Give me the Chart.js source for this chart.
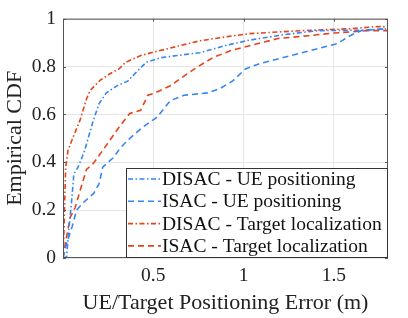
<!DOCTYPE html>
<html lang="en">
<head>
    <meta charset="UTF-8">
    <title>Empirical CDF</title>
    <script src="https://cdn.jsdelivr.net/npm/chart.js"></script>
    <style>
        body { margin: 0; background: #fff; }
        #wrap { width: 408px; height: 318px; }
    </style>
</head>
<body>
    <div id="wrap"><canvas id="cdfChart"></canvas></div>

    <script>
        // Values (error in m, CDF)
        const disacUeX = [0, 0.02, 0.03, 0.048, 0.06, 0.083, 0.1, 0.12, 0.168, 0.2, 0.24, 0.3, 0.36, 0.41, 0.46, 0.54, 0.63, 0.76, 0.91, 1.03, 1.22, 1.41, 1.65, 1.8];
        const disacUeY = [0, 0.005, 0.1, 0.24, 0.35, 0.38, 0.41, 0.45, 0.575, 0.645, 0.69, 0.72, 0.74, 0.78, 0.817, 0.837, 0.846, 0.858, 0.89, 0.91, 0.933, 0.95, 0.952, 0.958];

        const isacUeX = [0, 0.02, 0.05, 0.075, 0.11, 0.17, 0.2, 0.22, 0.28, 0.317, 0.37, 0.44, 0.52, 0.595, 0.67, 0.8, 0.87, 0.94, 1.01, 1.08, 1.22, 1.41, 1.52, 1.59, 1.65, 1.8];
        const isacUeY = [0, 0.06, 0.13, 0.2, 0.23, 0.27, 0.31, 0.38, 0.42, 0.46, 0.5, 0.546, 0.588, 0.658, 0.68, 0.69, 0.708, 0.74, 0.79, 0.81, 0.8375, 0.875, 0.896, 0.929, 0.95, 0.958];

        const disacTgX = [0, 0.005, 0.01, 0.015, 0.028, 0.048, 0.094, 0.128, 0.15, 0.205, 0.26, 0.31, 0.345, 0.43, 0.5, 0.65, 0.76, 0.91, 1.03, 1.32, 1.59, 1.74, 1.8];
        const disacTgY = [0, 0.1, 0.25, 0.38, 0.45, 0.49, 0.575, 0.66, 0.7, 0.742, 0.77, 0.79, 0.817, 0.846, 0.86, 0.8875, 0.908, 0.925, 0.9375, 0.95, 0.958, 0.967, 0.967];

        const isacTgX = [0, 0.02, 0.04, 0.067, 0.094, 0.13, 0.168, 0.22, 0.31, 0.37, 0.43, 0.47, 0.51, 0.595, 0.65, 0.74, 0.83, 0.93, 1.06, 1.19, 1.36, 1.5, 1.69, 1.8];
        const isacTgY = [0, 0.09, 0.17, 0.21, 0.28, 0.37, 0.395, 0.45, 0.546, 0.604, 0.617, 0.68, 0.69, 0.72, 0.75, 0.796, 0.8375, 0.867, 0.892, 0.917, 0.929, 0.94, 0.95, 0.95];

        const seriesLabels = ['DISAC - UE positioning', 'ISAC - UE positioning', 'DISAC - Target localization', 'ISAC - Target localization'];
        const yTicks = [0, 0.2, 0.4, 0.6, 0.8, 1];
        const xTicks = [0.5, 1, 1.5];

        const BLUE = '#3585f2';
        const RED = '#e5431b';
        const DASHDOT = [5, 2.5, 1.5, 2.5];
        const DASHED = [6, 4];
        const FONT = '"Liberation Serif", "DejaVu Serif", serif';

        const zip = (xs, ys) => xs.map((x, i) => ({ x: x, y: ys[i] }));

        function series(label, xs, ys, color, dash) {
            return {
                label: label,
                data: zip(xs, ys),
                showLine: true,
                borderColor: color,
                borderWidth: 1.6,
                borderDash: dash,
                pointRadius: 0,
                tension: 0,
                fill: false
            };
        }

        // legend box drawn in the lower right corner, MATLAB style
        const boxLegend = {
            id: 'boxLegend',
            afterDraw(chart) {
                const c = chart.ctx;
                const area = chart.chartArea;
                const left = 126, top = 168, right = area.right, bottom = area.bottom;
                c.save();
                c.fillStyle = '#fff';
                c.fillRect(left, top, right - left, bottom - top);
                c.strokeStyle = '#333';
                c.lineWidth = 1;
                c.setLineDash([]);
                c.strokeRect(left + 0.5, top + 0.5, right - left - 1, bottom - top - 1);
                const rowH = 22.3;
                chart.data.datasets.forEach((ds, i) => {
                    const y = top + 11 + i * rowH;
                    c.beginPath();
                    c.setLineDash(ds.borderDash);
                    c.strokeStyle = ds.borderColor;
                    c.lineWidth = 1.6;
                    c.moveTo(128, y);
                    c.lineTo(161, y);
                    c.stroke();
                    c.setLineDash([]);
                    c.fillStyle = '#111';
                    c.font = '19.5px ' + FONT;
                    c.textBaseline = 'middle';
                    c.fillText(ds.label, 162, y + 1);
                });
                c.restore();
            }
        };

        // box around the plot with inward ticks
        const axesBox = {
            id: 'axesBox',
            afterDatasetsDraw(chart) {
                const c = chart.ctx;
                const a = chart.chartArea;
                const xs = chart.scales.x, ys = chart.scales.y;
                c.save();
                c.strokeStyle = '#555';
                c.lineWidth = 1;
                c.setLineDash([]);
                c.strokeRect(a.left + 0.5, a.top + 0.5, a.right - a.left - 1, a.bottom - a.top - 1);
                c.beginPath();
                xTicks.forEach(v => {
                    const px = Math.round(xs.getPixelForValue(v)) + 0.5;
                    c.moveTo(px, a.bottom); c.lineTo(px, a.bottom - 3);
                    c.moveTo(px, a.top); c.lineTo(px, a.top + 3);
                });
                yTicks.forEach(v => {
                    const py = Math.round(ys.getPixelForValue(v)) + 0.5;
                    c.moveTo(a.left, py); c.lineTo(a.left + 3, py);
                    c.moveTo(a.right, py); c.lineTo(a.right - 3, py);
                });
                c.stroke();
                c.restore();
            }
        };

        const ctx = document.getElementById('cdfChart').getContext('2d');
        new Chart(ctx, {
            type: 'scatter',
            data: {
                datasets: [
                    series(seriesLabels[0], disacUeX, disacUeY, BLUE, DASHDOT),
                    series(seriesLabels[1], isacUeX, isacUeY, BLUE, DASHED),
                    series(seriesLabels[2], disacTgX, disacTgY, RED, DASHDOT),
                    series(seriesLabels[3], isacTgX, isacTgY, RED, DASHED)
                ]
            },
            options: {
                responsive: true,
                maintainAspectRatio: false,
                animation: false,
                layout: { padding: { top: 18, right: 20, left: 0, bottom: 0 } },
                plugins: {
                    legend: { display: false },
                    tooltip: { enabled: false }
                },
                scales: {
                    x: {
                        type: 'linear',
                        min: 0,
                        max: 1.8,
                        afterBuildTicks: s => { s.ticks = xTicks.map(v => ({ value: v })); },
                        afterFit: s => { s.height = 60; },
                        border: { display: false },
                        grid: { color: '#e6e6e6', drawTicks: false },
                        ticks: {
                            color: '#222',
                            padding: 6,
                            font: { family: FONT, size: 19.5 },
                            maxRotation: 0,
                            callback: v => String(v)
                        },
                        title: {
                            display: true,
                            text: 'UE/Target Positioning Error (m)',
                            color: '#222',
                            padding: { top: 0, bottom: 2 },
                            font: { family: FONT, size: 22 }
                        }
                    },
                    y: {
                        min: 0,
                        max: 1,
                        afterBuildTicks: s => { s.ticks = yTicks.map(v => ({ value: v })); },
                        afterFit: s => { s.width = 63; },
                        border: { display: false },
                        grid: { color: '#e6e6e6', drawTicks: false },
                        ticks: {
                            color: '#222',
                            padding: 7,
                            font: { family: FONT, size: 19.5 },
                            callback: v => String(v)
                        },
                        title: {
                            display: true,
                            text: 'Empirical CDF',
                            color: '#222',
                            padding: { top: 2, bottom: 0 },
                            font: { family: FONT, size: 22 }
                        }
                    }
                }
            },
            plugins: [axesBox, boxLegend]
        });
    </script>
</body>
</html>
